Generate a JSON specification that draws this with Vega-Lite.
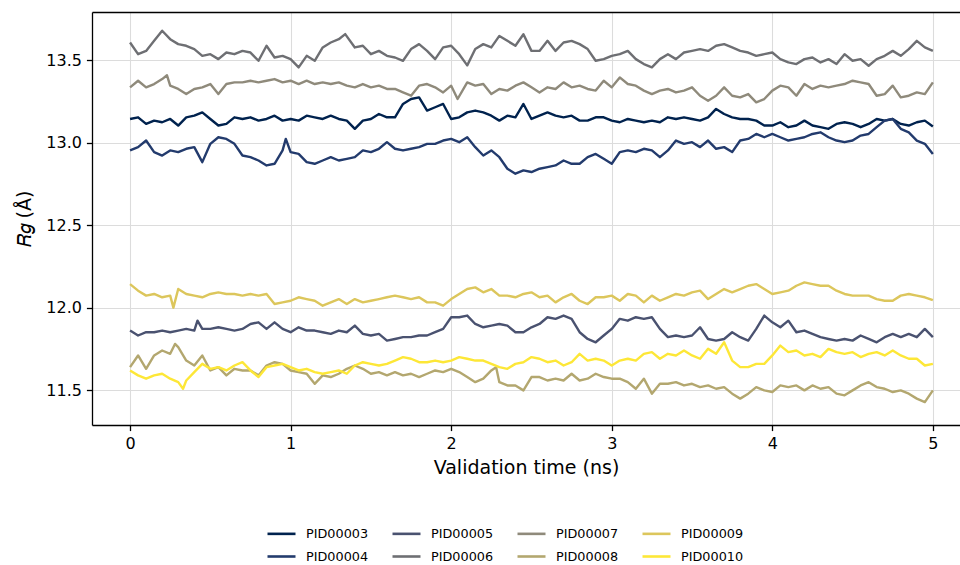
{
"$schema":"https://vega.github.io/schema/vega-lite/v6.json",
"width":868,"height":413,
"autosize":{"type":"none"},
"padding":{"left":92,"top":12,"right":0,"bottom":140},
"config":{"font":"DejaVu Sans","view":{"stroke":null},
"axis":{"labelFont":"DejaVu Sans","labelFontSize":16,"labelColor":"#000000","tickColor":"#000000","tickSize":5.6,"tickWidth":1.3,"domainColor":"#000000","domainWidth":1.3,"gridColor":"#dcdcdc","gridWidth":1.1,"titleFont":"DejaVu Sans","titleFontSize":19,"titleFontWeight":"normal","titleColor":"#000000","labelPadding":5}},
"data":{"values":[
{"t":0,"id":"PID00003","v":13.145},{"t":0.05,"id":"PID00003","v":13.155},{"t":0.1,"id":"PID00003","v":13.115},{"t":0.15,"id":"PID00003","v":13.135},{"t":0.2,"id":"PID00003","v":13.125},{"t":0.25,"id":"PID00003","v":13.145},{"t":0.3,"id":"PID00003","v":13.105},{"t":0.35,"id":"PID00003","v":13.155},{"t":0.4,"id":"PID00003","v":13.165},{"t":0.45,"id":"PID00003","v":13.185},{"t":0.5,"id":"PID00003","v":13.145},{"t":0.55,"id":"PID00003","v":13.105},{"t":0.6,"id":"PID00003","v":13.115},{"t":0.65,"id":"PID00003","v":13.155},{"t":0.7,"id":"PID00003","v":13.145},{"t":0.75,"id":"PID00003","v":13.155},{"t":0.8,"id":"PID00003","v":13.135},{"t":0.85,"id":"PID00003","v":13.145},{"t":0.9,"id":"PID00003","v":13.165},{"t":0.95,"id":"PID00003","v":13.135},{"t":1,"id":"PID00003","v":13.145},{"t":1.05,"id":"PID00003","v":13.135},{"t":1.1,"id":"PID00003","v":13.165},{"t":1.15,"id":"PID00003","v":13.155},{"t":1.2,"id":"PID00003","v":13.145},{"t":1.25,"id":"PID00003","v":13.165},{"t":1.3,"id":"PID00003","v":13.145},{"t":1.35,"id":"PID00003","v":13.135},{"t":1.4,"id":"PID00003","v":13.085},{"t":1.45,"id":"PID00003","v":13.135},{"t":1.5,"id":"PID00003","v":13.145},{"t":1.55,"id":"PID00003","v":13.175},{"t":1.6,"id":"PID00003","v":13.155},{"t":1.65,"id":"PID00003","v":13.155},{"t":1.7,"id":"PID00003","v":13.236},{"t":1.75,"id":"PID00003","v":13.266},{"t":1.8,"id":"PID00003","v":13.276},{"t":1.85,"id":"PID00003","v":13.196},{"t":1.9,"id":"PID00003","v":13.216},{"t":1.95,"id":"PID00003","v":13.236},{"t":2,"id":"PID00003","v":13.145},{"t":2.05,"id":"PID00003","v":13.155},{"t":2.1,"id":"PID00003","v":13.185},{"t":2.15,"id":"PID00003","v":13.196},{"t":2.2,"id":"PID00003","v":13.185},{"t":2.25,"id":"PID00003","v":13.165},{"t":2.3,"id":"PID00003","v":13.135},{"t":2.35,"id":"PID00003","v":13.165},{"t":2.4,"id":"PID00003","v":13.155},{"t":2.45,"id":"PID00003","v":13.236},{"t":2.5,"id":"PID00003","v":13.145},{"t":2.55,"id":"PID00003","v":13.165},{"t":2.6,"id":"PID00003","v":13.185},{"t":2.65,"id":"PID00003","v":13.165},{"t":2.7,"id":"PID00003","v":13.155},{"t":2.75,"id":"PID00003","v":13.165},{"t":2.8,"id":"PID00003","v":13.135},{"t":2.85,"id":"PID00003","v":13.135},{"t":2.9,"id":"PID00003","v":13.155},{"t":2.95,"id":"PID00003","v":13.155},{"t":3,"id":"PID00003","v":13.135},{"t":3.05,"id":"PID00003","v":13.125},{"t":3.1,"id":"PID00003","v":13.145},{"t":3.15,"id":"PID00003","v":13.135},{"t":3.2,"id":"PID00003","v":13.125},{"t":3.25,"id":"PID00003","v":13.135},{"t":3.3,"id":"PID00003","v":13.125},{"t":3.35,"id":"PID00003","v":13.155},{"t":3.4,"id":"PID00003","v":13.145},{"t":3.45,"id":"PID00003","v":13.155},{"t":3.5,"id":"PID00003","v":13.145},{"t":3.55,"id":"PID00003","v":13.135},{"t":3.6,"id":"PID00003","v":13.155},{"t":3.65,"id":"PID00003","v":13.206},{"t":3.7,"id":"PID00003","v":13.175},{"t":3.75,"id":"PID00003","v":13.155},{"t":3.8,"id":"PID00003","v":13.145},{"t":3.85,"id":"PID00003","v":13.145},{"t":3.9,"id":"PID00003","v":13.135},{"t":3.95,"id":"PID00003","v":13.105},{"t":4,"id":"PID00003","v":13.105},{"t":4.05,"id":"PID00003","v":13.125},{"t":4.1,"id":"PID00003","v":13.095},{"t":4.15,"id":"PID00003","v":13.105},{"t":4.2,"id":"PID00003","v":13.135},{"t":4.25,"id":"PID00003","v":13.105},{"t":4.3,"id":"PID00003","v":13.095},{"t":4.35,"id":"PID00003","v":13.085},{"t":4.4,"id":"PID00003","v":13.115},{"t":4.45,"id":"PID00003","v":13.125},{"t":4.5,"id":"PID00003","v":13.115},{"t":4.55,"id":"PID00003","v":13.095},{"t":4.6,"id":"PID00003","v":13.115},{"t":4.65,"id":"PID00003","v":13.145},{"t":4.7,"id":"PID00003","v":13.135},{"t":4.75,"id":"PID00003","v":13.145},{"t":4.8,"id":"PID00003","v":13.115},{"t":4.85,"id":"PID00003","v":13.105},{"t":4.9,"id":"PID00003","v":13.125},{"t":4.95,"id":"PID00003","v":13.135},{"t":5,"id":"PID00003","v":13.099},
{"t":0,"id":"PID00004","v":12.954},{"t":0.05,"id":"PID00004","v":12.974},{"t":0.1,"id":"PID00004","v":13.014},{"t":0.15,"id":"PID00004","v":12.944},{"t":0.2,"id":"PID00004","v":12.923},{"t":0.25,"id":"PID00004","v":12.954},{"t":0.3,"id":"PID00004","v":12.944},{"t":0.35,"id":"PID00004","v":12.964},{"t":0.4,"id":"PID00004","v":12.974},{"t":0.45,"id":"PID00004","v":12.883},{"t":0.5,"id":"PID00004","v":12.994},{"t":0.55,"id":"PID00004","v":13.034},{"t":0.6,"id":"PID00004","v":13.024},{"t":0.65,"id":"PID00004","v":12.994},{"t":0.7,"id":"PID00004","v":12.923},{"t":0.75,"id":"PID00004","v":12.913},{"t":0.8,"id":"PID00004","v":12.893},{"t":0.85,"id":"PID00004","v":12.863},{"t":0.9,"id":"PID00004","v":12.873},{"t":0.95,"id":"PID00004","v":12.954},{"t":0.97,"id":"PID00004","v":13.024},{"t":1,"id":"PID00004","v":12.944},{"t":1.05,"id":"PID00004","v":12.933},{"t":1.1,"id":"PID00004","v":12.883},{"t":1.15,"id":"PID00004","v":12.873},{"t":1.2,"id":"PID00004","v":12.893},{"t":1.25,"id":"PID00004","v":12.913},{"t":1.3,"id":"PID00004","v":12.893},{"t":1.35,"id":"PID00004","v":12.903},{"t":1.4,"id":"PID00004","v":12.913},{"t":1.45,"id":"PID00004","v":12.954},{"t":1.5,"id":"PID00004","v":12.944},{"t":1.55,"id":"PID00004","v":12.964},{"t":1.6,"id":"PID00004","v":13.004},{"t":1.65,"id":"PID00004","v":12.964},{"t":1.7,"id":"PID00004","v":12.954},{"t":1.75,"id":"PID00004","v":12.964},{"t":1.8,"id":"PID00004","v":12.974},{"t":1.85,"id":"PID00004","v":12.994},{"t":1.9,"id":"PID00004","v":12.994},{"t":1.95,"id":"PID00004","v":13.014},{"t":2,"id":"PID00004","v":13.024},{"t":2.05,"id":"PID00004","v":13.004},{"t":2.1,"id":"PID00004","v":13.034},{"t":2.15,"id":"PID00004","v":12.974},{"t":2.2,"id":"PID00004","v":12.923},{"t":2.25,"id":"PID00004","v":12.954},{"t":2.3,"id":"PID00004","v":12.913},{"t":2.35,"id":"PID00004","v":12.843},{"t":2.4,"id":"PID00004","v":12.813},{"t":2.45,"id":"PID00004","v":12.833},{"t":2.5,"id":"PID00004","v":12.823},{"t":2.55,"id":"PID00004","v":12.843},{"t":2.6,"id":"PID00004","v":12.853},{"t":2.65,"id":"PID00004","v":12.863},{"t":2.7,"id":"PID00004","v":12.893},{"t":2.75,"id":"PID00004","v":12.873},{"t":2.8,"id":"PID00004","v":12.873},{"t":2.85,"id":"PID00004","v":12.913},{"t":2.9,"id":"PID00004","v":12.933},{"t":2.95,"id":"PID00004","v":12.903},{"t":3,"id":"PID00004","v":12.873},{"t":3.05,"id":"PID00004","v":12.944},{"t":3.1,"id":"PID00004","v":12.954},{"t":3.15,"id":"PID00004","v":12.944},{"t":3.2,"id":"PID00004","v":12.964},{"t":3.25,"id":"PID00004","v":12.954},{"t":3.3,"id":"PID00004","v":12.913},{"t":3.35,"id":"PID00004","v":12.954},{"t":3.4,"id":"PID00004","v":13.014},{"t":3.45,"id":"PID00004","v":12.994},{"t":3.5,"id":"PID00004","v":13.004},{"t":3.55,"id":"PID00004","v":12.974},{"t":3.6,"id":"PID00004","v":13.014},{"t":3.65,"id":"PID00004","v":12.964},{"t":3.7,"id":"PID00004","v":12.974},{"t":3.75,"id":"PID00004","v":12.944},{"t":3.8,"id":"PID00004","v":13.014},{"t":3.85,"id":"PID00004","v":13.024},{"t":3.9,"id":"PID00004","v":13.054},{"t":3.95,"id":"PID00004","v":13.034},{"t":4,"id":"PID00004","v":13.054},{"t":4.05,"id":"PID00004","v":13.034},{"t":4.1,"id":"PID00004","v":13.014},{"t":4.15,"id":"PID00004","v":13.024},{"t":4.2,"id":"PID00004","v":13.034},{"t":4.25,"id":"PID00004","v":13.054},{"t":4.3,"id":"PID00004","v":13.064},{"t":4.35,"id":"PID00004","v":13.034},{"t":4.4,"id":"PID00004","v":13.014},{"t":4.45,"id":"PID00004","v":13.004},{"t":4.5,"id":"PID00004","v":13.014},{"t":4.55,"id":"PID00004","v":13.044},{"t":4.6,"id":"PID00004","v":13.054},{"t":4.65,"id":"PID00004","v":13.095},{"t":4.7,"id":"PID00004","v":13.135},{"t":4.75,"id":"PID00004","v":13.145},{"t":4.8,"id":"PID00004","v":13.085},{"t":4.85,"id":"PID00004","v":13.064},{"t":4.9,"id":"PID00004","v":13.014},{"t":4.95,"id":"PID00004","v":12.994},{"t":5,"id":"PID00004","v":12.933},
{"t":0,"id":"PID00005","v":11.861},{"t":0.05,"id":"PID00005","v":11.831},{"t":0.1,"id":"PID00005","v":11.851},{"t":0.15,"id":"PID00005","v":11.851},{"t":0.2,"id":"PID00005","v":11.861},{"t":0.25,"id":"PID00005","v":11.851},{"t":0.3,"id":"PID00005","v":11.861},{"t":0.35,"id":"PID00005","v":11.871},{"t":0.4,"id":"PID00005","v":11.861},{"t":0.42,"id":"PID00005","v":11.921},{"t":0.45,"id":"PID00005","v":11.871},{"t":0.5,"id":"PID00005","v":11.871},{"t":0.55,"id":"PID00005","v":11.881},{"t":0.6,"id":"PID00005","v":11.871},{"t":0.65,"id":"PID00005","v":11.861},{"t":0.7,"id":"PID00005","v":11.871},{"t":0.75,"id":"PID00005","v":11.901},{"t":0.8,"id":"PID00005","v":11.911},{"t":0.85,"id":"PID00005","v":11.871},{"t":0.9,"id":"PID00005","v":11.911},{"t":0.95,"id":"PID00005","v":11.871},{"t":1,"id":"PID00005","v":11.851},{"t":1.05,"id":"PID00005","v":11.881},{"t":1.1,"id":"PID00005","v":11.861},{"t":1.15,"id":"PID00005","v":11.861},{"t":1.2,"id":"PID00005","v":11.851},{"t":1.25,"id":"PID00005","v":11.841},{"t":1.3,"id":"PID00005","v":11.861},{"t":1.35,"id":"PID00005","v":11.851},{"t":1.4,"id":"PID00005","v":11.891},{"t":1.45,"id":"PID00005","v":11.841},{"t":1.5,"id":"PID00005","v":11.831},{"t":1.55,"id":"PID00005","v":11.841},{"t":1.6,"id":"PID00005","v":11.8},{"t":1.65,"id":"PID00005","v":11.81},{"t":1.7,"id":"PID00005","v":11.821},{"t":1.75,"id":"PID00005","v":11.821},{"t":1.8,"id":"PID00005","v":11.831},{"t":1.85,"id":"PID00005","v":11.831},{"t":1.9,"id":"PID00005","v":11.851},{"t":1.95,"id":"PID00005","v":11.871},{"t":2,"id":"PID00005","v":11.942},{"t":2.05,"id":"PID00005","v":11.942},{"t":2.1,"id":"PID00005","v":11.952},{"t":2.15,"id":"PID00005","v":11.901},{"t":2.2,"id":"PID00005","v":11.881},{"t":2.25,"id":"PID00005","v":11.891},{"t":2.3,"id":"PID00005","v":11.901},{"t":2.35,"id":"PID00005","v":11.891},{"t":2.4,"id":"PID00005","v":11.851},{"t":2.45,"id":"PID00005","v":11.851},{"t":2.5,"id":"PID00005","v":11.881},{"t":2.55,"id":"PID00005","v":11.901},{"t":2.6,"id":"PID00005","v":11.942},{"t":2.65,"id":"PID00005","v":11.932},{"t":2.7,"id":"PID00005","v":11.952},{"t":2.75,"id":"PID00005","v":11.932},{"t":2.8,"id":"PID00005","v":11.851},{"t":2.85,"id":"PID00005","v":11.81},{"t":2.9,"id":"PID00005","v":11.79},{"t":2.95,"id":"PID00005","v":11.831},{"t":3,"id":"PID00005","v":11.871},{"t":3.05,"id":"PID00005","v":11.932},{"t":3.1,"id":"PID00005","v":11.921},{"t":3.15,"id":"PID00005","v":11.942},{"t":3.2,"id":"PID00005","v":11.932},{"t":3.25,"id":"PID00005","v":11.942},{"t":3.3,"id":"PID00005","v":11.871},{"t":3.35,"id":"PID00005","v":11.821},{"t":3.4,"id":"PID00005","v":11.831},{"t":3.45,"id":"PID00005","v":11.821},{"t":3.5,"id":"PID00005","v":11.831},{"t":3.55,"id":"PID00005","v":11.881},{"t":3.6,"id":"PID00005","v":11.81},{"t":3.65,"id":"PID00005","v":11.8},{"t":3.7,"id":"PID00005","v":11.81},{"t":3.75,"id":"PID00005","v":11.851},{"t":3.8,"id":"PID00005","v":11.821},{"t":3.85,"id":"PID00005","v":11.8},{"t":3.9,"id":"PID00005","v":11.871},{"t":3.95,"id":"PID00005","v":11.952},{"t":4,"id":"PID00005","v":11.911},{"t":4.05,"id":"PID00005","v":11.881},{"t":4.1,"id":"PID00005","v":11.921},{"t":4.15,"id":"PID00005","v":11.851},{"t":4.2,"id":"PID00005","v":11.861},{"t":4.25,"id":"PID00005","v":11.841},{"t":4.3,"id":"PID00005","v":11.821},{"t":4.35,"id":"PID00005","v":11.81},{"t":4.4,"id":"PID00005","v":11.8},{"t":4.45,"id":"PID00005","v":11.81},{"t":4.5,"id":"PID00005","v":11.8},{"t":4.55,"id":"PID00005","v":11.831},{"t":4.6,"id":"PID00005","v":11.81},{"t":4.65,"id":"PID00005","v":11.79},{"t":4.7,"id":"PID00005","v":11.821},{"t":4.75,"id":"PID00005","v":11.841},{"t":4.8,"id":"PID00005","v":11.821},{"t":4.85,"id":"PID00005","v":11.841},{"t":4.9,"id":"PID00005","v":11.821},{"t":4.95,"id":"PID00005","v":11.871},{"t":5,"id":"PID00005","v":11.821},
{"t":0,"id":"PID00006","v":13.609},{"t":0.05,"id":"PID00006","v":13.538},{"t":0.1,"id":"PID00006","v":13.558},{"t":0.15,"id":"PID00006","v":13.619},{"t":0.2,"id":"PID00006","v":13.68},{"t":0.25,"id":"PID00006","v":13.629},{"t":0.3,"id":"PID00006","v":13.599},{"t":0.35,"id":"PID00006","v":13.589},{"t":0.4,"id":"PID00006","v":13.569},{"t":0.45,"id":"PID00006","v":13.528},{"t":0.5,"id":"PID00006","v":13.538},{"t":0.55,"id":"PID00006","v":13.508},{"t":0.6,"id":"PID00006","v":13.548},{"t":0.65,"id":"PID00006","v":13.538},{"t":0.7,"id":"PID00006","v":13.558},{"t":0.75,"id":"PID00006","v":13.548},{"t":0.8,"id":"PID00006","v":13.498},{"t":0.85,"id":"PID00006","v":13.589},{"t":0.9,"id":"PID00006","v":13.518},{"t":0.95,"id":"PID00006","v":13.528},{"t":1,"id":"PID00006","v":13.508},{"t":1.05,"id":"PID00006","v":13.458},{"t":1.1,"id":"PID00006","v":13.528},{"t":1.15,"id":"PID00006","v":13.498},{"t":1.2,"id":"PID00006","v":13.579},{"t":1.25,"id":"PID00006","v":13.609},{"t":1.3,"id":"PID00006","v":13.629},{"t":1.34,"id":"PID00006","v":13.66},{"t":1.4,"id":"PID00006","v":13.579},{"t":1.45,"id":"PID00006","v":13.589},{"t":1.5,"id":"PID00006","v":13.538},{"t":1.55,"id":"PID00006","v":13.558},{"t":1.6,"id":"PID00006","v":13.528},{"t":1.65,"id":"PID00006","v":13.518},{"t":1.7,"id":"PID00006","v":13.498},{"t":1.75,"id":"PID00006","v":13.569},{"t":1.8,"id":"PID00006","v":13.599},{"t":1.85,"id":"PID00006","v":13.558},{"t":1.9,"id":"PID00006","v":13.508},{"t":1.95,"id":"PID00006","v":13.579},{"t":2,"id":"PID00006","v":13.589},{"t":2.05,"id":"PID00006","v":13.538},{"t":2.1,"id":"PID00006","v":13.47},{"t":2.15,"id":"PID00006","v":13.569},{"t":2.2,"id":"PID00006","v":13.599},{"t":2.25,"id":"PID00006","v":13.579},{"t":2.3,"id":"PID00006","v":13.649},{"t":2.35,"id":"PID00006","v":13.619},{"t":2.4,"id":"PID00006","v":13.589},{"t":2.45,"id":"PID00006","v":13.659},{"t":2.5,"id":"PID00006","v":13.558},{"t":2.55,"id":"PID00006","v":13.558},{"t":2.6,"id":"PID00006","v":13.619},{"t":2.65,"id":"PID00006","v":13.558},{"t":2.7,"id":"PID00006","v":13.609},{"t":2.75,"id":"PID00006","v":13.619},{"t":2.8,"id":"PID00006","v":13.599},{"t":2.85,"id":"PID00006","v":13.569},{"t":2.9,"id":"PID00006","v":13.498},{"t":2.95,"id":"PID00006","v":13.508},{"t":3,"id":"PID00006","v":13.528},{"t":3.05,"id":"PID00006","v":13.538},{"t":3.1,"id":"PID00006","v":13.558},{"t":3.15,"id":"PID00006","v":13.508},{"t":3.2,"id":"PID00006","v":13.478},{"t":3.25,"id":"PID00006","v":13.458},{"t":3.3,"id":"PID00006","v":13.508},{"t":3.35,"id":"PID00006","v":13.538},{"t":3.4,"id":"PID00006","v":13.508},{"t":3.45,"id":"PID00006","v":13.548},{"t":3.5,"id":"PID00006","v":13.558},{"t":3.55,"id":"PID00006","v":13.569},{"t":3.6,"id":"PID00006","v":13.558},{"t":3.65,"id":"PID00006","v":13.589},{"t":3.7,"id":"PID00006","v":13.599},{"t":3.75,"id":"PID00006","v":13.579},{"t":3.8,"id":"PID00006","v":13.558},{"t":3.85,"id":"PID00006","v":13.548},{"t":3.9,"id":"PID00006","v":13.528},{"t":3.95,"id":"PID00006","v":13.538},{"t":4,"id":"PID00006","v":13.548},{"t":4.05,"id":"PID00006","v":13.508},{"t":4.1,"id":"PID00006","v":13.488},{"t":4.15,"id":"PID00006","v":13.478},{"t":4.2,"id":"PID00006","v":13.508},{"t":4.25,"id":"PID00006","v":13.518},{"t":4.3,"id":"PID00006","v":13.488},{"t":4.35,"id":"PID00006","v":13.508},{"t":4.4,"id":"PID00006","v":13.478},{"t":4.45,"id":"PID00006","v":13.538},{"t":4.5,"id":"PID00006","v":13.498},{"t":4.55,"id":"PID00006","v":13.508},{"t":4.6,"id":"PID00006","v":13.468},{"t":4.65,"id":"PID00006","v":13.508},{"t":4.7,"id":"PID00006","v":13.528},{"t":4.75,"id":"PID00006","v":13.558},{"t":4.8,"id":"PID00006","v":13.528},{"t":4.85,"id":"PID00006","v":13.569},{"t":4.9,"id":"PID00006","v":13.619},{"t":4.95,"id":"PID00006","v":13.579},{"t":5,"id":"PID00006","v":13.558},
{"t":0,"id":"PID00007","v":13.337},{"t":0.05,"id":"PID00007","v":13.377},{"t":0.1,"id":"PID00007","v":13.337},{"t":0.15,"id":"PID00007","v":13.357},{"t":0.2,"id":"PID00007","v":13.387},{"t":0.23,"id":"PID00007","v":13.41},{"t":0.25,"id":"PID00007","v":13.347},{"t":0.3,"id":"PID00007","v":13.327},{"t":0.35,"id":"PID00007","v":13.296},{"t":0.4,"id":"PID00007","v":13.327},{"t":0.45,"id":"PID00007","v":13.337},{"t":0.5,"id":"PID00007","v":13.357},{"t":0.55,"id":"PID00007","v":13.296},{"t":0.6,"id":"PID00007","v":13.357},{"t":0.65,"id":"PID00007","v":13.367},{"t":0.7,"id":"PID00007","v":13.367},{"t":0.75,"id":"PID00007","v":13.377},{"t":0.8,"id":"PID00007","v":13.367},{"t":0.85,"id":"PID00007","v":13.377},{"t":0.9,"id":"PID00007","v":13.387},{"t":0.95,"id":"PID00007","v":13.367},{"t":1,"id":"PID00007","v":13.377},{"t":1.05,"id":"PID00007","v":13.357},{"t":1.1,"id":"PID00007","v":13.377},{"t":1.15,"id":"PID00007","v":13.357},{"t":1.2,"id":"PID00007","v":13.367},{"t":1.25,"id":"PID00007","v":13.357},{"t":1.3,"id":"PID00007","v":13.367},{"t":1.35,"id":"PID00007","v":13.347},{"t":1.4,"id":"PID00007","v":13.337},{"t":1.45,"id":"PID00007","v":13.357},{"t":1.5,"id":"PID00007","v":13.337},{"t":1.55,"id":"PID00007","v":13.347},{"t":1.6,"id":"PID00007","v":13.327},{"t":1.65,"id":"PID00007","v":13.327},{"t":1.7,"id":"PID00007","v":13.306},{"t":1.75,"id":"PID00007","v":13.286},{"t":1.8,"id":"PID00007","v":13.347},{"t":1.85,"id":"PID00007","v":13.357},{"t":1.9,"id":"PID00007","v":13.337},{"t":1.95,"id":"PID00007","v":13.306},{"t":2,"id":"PID00007","v":13.347},{"t":2.04,"id":"PID00007","v":13.266},{"t":2.1,"id":"PID00007","v":13.367},{"t":2.15,"id":"PID00007","v":13.347},{"t":2.2,"id":"PID00007","v":13.357},{"t":2.25,"id":"PID00007","v":13.296},{"t":2.3,"id":"PID00007","v":13.327},{"t":2.35,"id":"PID00007","v":13.317},{"t":2.4,"id":"PID00007","v":13.347},{"t":2.45,"id":"PID00007","v":13.367},{"t":2.5,"id":"PID00007","v":13.337},{"t":2.55,"id":"PID00007","v":13.306},{"t":2.6,"id":"PID00007","v":13.337},{"t":2.65,"id":"PID00007","v":13.327},{"t":2.7,"id":"PID00007","v":13.367},{"t":2.75,"id":"PID00007","v":13.337},{"t":2.8,"id":"PID00007","v":13.347},{"t":2.85,"id":"PID00007","v":13.327},{"t":2.9,"id":"PID00007","v":13.317},{"t":2.95,"id":"PID00007","v":13.377},{"t":3,"id":"PID00007","v":13.337},{"t":3.05,"id":"PID00007","v":13.397},{"t":3.1,"id":"PID00007","v":13.357},{"t":3.15,"id":"PID00007","v":13.347},{"t":3.2,"id":"PID00007","v":13.317},{"t":3.25,"id":"PID00007","v":13.296},{"t":3.3,"id":"PID00007","v":13.317},{"t":3.35,"id":"PID00007","v":13.327},{"t":3.4,"id":"PID00007","v":13.306},{"t":3.45,"id":"PID00007","v":13.317},{"t":3.5,"id":"PID00007","v":13.337},{"t":3.55,"id":"PID00007","v":13.286},{"t":3.6,"id":"PID00007","v":13.256},{"t":3.65,"id":"PID00007","v":13.286},{"t":3.7,"id":"PID00007","v":13.337},{"t":3.75,"id":"PID00007","v":13.286},{"t":3.8,"id":"PID00007","v":13.276},{"t":3.85,"id":"PID00007","v":13.296},{"t":3.9,"id":"PID00007","v":13.246},{"t":3.95,"id":"PID00007","v":13.266},{"t":4,"id":"PID00007","v":13.317},{"t":4.05,"id":"PID00007","v":13.347},{"t":4.1,"id":"PID00007","v":13.337},{"t":4.15,"id":"PID00007","v":13.286},{"t":4.2,"id":"PID00007","v":13.357},{"t":4.25,"id":"PID00007","v":13.327},{"t":4.3,"id":"PID00007","v":13.347},{"t":4.35,"id":"PID00007","v":13.337},{"t":4.4,"id":"PID00007","v":13.347},{"t":4.45,"id":"PID00007","v":13.357},{"t":4.5,"id":"PID00007","v":13.377},{"t":4.55,"id":"PID00007","v":13.367},{"t":4.6,"id":"PID00007","v":13.357},{"t":4.65,"id":"PID00007","v":13.286},{"t":4.7,"id":"PID00007","v":13.296},{"t":4.75,"id":"PID00007","v":13.347},{"t":4.8,"id":"PID00007","v":13.276},{"t":4.85,"id":"PID00007","v":13.286},{"t":4.9,"id":"PID00007","v":13.306},{"t":4.95,"id":"PID00007","v":13.296},{"t":5,"id":"PID00007","v":13.367},
{"t":0,"id":"PID00008","v":11.639},{"t":0.05,"id":"PID00008","v":11.71},{"t":0.1,"id":"PID00008","v":11.629},{"t":0.15,"id":"PID00008","v":11.71},{"t":0.2,"id":"PID00008","v":11.74},{"t":0.25,"id":"PID00008","v":11.72},{"t":0.28,"id":"PID00008","v":11.78},{"t":0.3,"id":"PID00008","v":11.76},{"t":0.35,"id":"PID00008","v":11.679},{"t":0.4,"id":"PID00008","v":11.649},{"t":0.45,"id":"PID00008","v":11.71},{"t":0.5,"id":"PID00008","v":11.619},{"t":0.55,"id":"PID00008","v":11.639},{"t":0.6,"id":"PID00008","v":11.589},{"t":0.65,"id":"PID00008","v":11.629},{"t":0.7,"id":"PID00008","v":11.619},{"t":0.75,"id":"PID00008","v":11.619},{"t":0.8,"id":"PID00008","v":11.589},{"t":0.85,"id":"PID00008","v":11.649},{"t":0.9,"id":"PID00008","v":11.669},{"t":0.95,"id":"PID00008","v":11.659},{"t":1,"id":"PID00008","v":11.619},{"t":1.05,"id":"PID00008","v":11.609},{"t":1.1,"id":"PID00008","v":11.599},{"t":1.15,"id":"PID00008","v":11.538},{"t":1.2,"id":"PID00008","v":11.589},{"t":1.25,"id":"PID00008","v":11.579},{"t":1.3,"id":"PID00008","v":11.599},{"t":1.35,"id":"PID00008","v":11.629},{"t":1.4,"id":"PID00008","v":11.649},{"t":1.45,"id":"PID00008","v":11.629},{"t":1.5,"id":"PID00008","v":11.599},{"t":1.55,"id":"PID00008","v":11.609},{"t":1.6,"id":"PID00008","v":11.589},{"t":1.65,"id":"PID00008","v":11.609},{"t":1.7,"id":"PID00008","v":11.589},{"t":1.75,"id":"PID00008","v":11.599},{"t":1.8,"id":"PID00008","v":11.579},{"t":1.85,"id":"PID00008","v":11.599},{"t":1.9,"id":"PID00008","v":11.619},{"t":1.95,"id":"PID00008","v":11.609},{"t":2,"id":"PID00008","v":11.629},{"t":2.05,"id":"PID00008","v":11.609},{"t":2.1,"id":"PID00008","v":11.579},{"t":2.15,"id":"PID00008","v":11.548},{"t":2.2,"id":"PID00008","v":11.569},{"t":2.25,"id":"PID00008","v":11.619},{"t":2.28,"id":"PID00008","v":11.639},{"t":2.3,"id":"PID00008","v":11.548},{"t":2.35,"id":"PID00008","v":11.528},{"t":2.4,"id":"PID00008","v":11.528},{"t":2.45,"id":"PID00008","v":11.498},{"t":2.5,"id":"PID00008","v":11.579},{"t":2.55,"id":"PID00008","v":11.579},{"t":2.6,"id":"PID00008","v":11.558},{"t":2.65,"id":"PID00008","v":11.569},{"t":2.7,"id":"PID00008","v":11.558},{"t":2.75,"id":"PID00008","v":11.599},{"t":2.8,"id":"PID00008","v":11.558},{"t":2.85,"id":"PID00008","v":11.569},{"t":2.9,"id":"PID00008","v":11.599},{"t":2.95,"id":"PID00008","v":11.579},{"t":3,"id":"PID00008","v":11.569},{"t":3.05,"id":"PID00008","v":11.569},{"t":3.1,"id":"PID00008","v":11.548},{"t":3.15,"id":"PID00008","v":11.508},{"t":3.2,"id":"PID00008","v":11.569},{"t":3.25,"id":"PID00008","v":11.478},{"t":3.3,"id":"PID00008","v":11.538},{"t":3.35,"id":"PID00008","v":11.538},{"t":3.4,"id":"PID00008","v":11.548},{"t":3.45,"id":"PID00008","v":11.528},{"t":3.5,"id":"PID00008","v":11.538},{"t":3.55,"id":"PID00008","v":11.518},{"t":3.6,"id":"PID00008","v":11.528},{"t":3.65,"id":"PID00008","v":11.508},{"t":3.7,"id":"PID00008","v":11.518},{"t":3.75,"id":"PID00008","v":11.478},{"t":3.8,"id":"PID00008","v":11.448},{"t":3.85,"id":"PID00008","v":11.478},{"t":3.9,"id":"PID00008","v":11.518},{"t":3.95,"id":"PID00008","v":11.498},{"t":4,"id":"PID00008","v":11.488},{"t":4.05,"id":"PID00008","v":11.528},{"t":4.1,"id":"PID00008","v":11.518},{"t":4.15,"id":"PID00008","v":11.528},{"t":4.2,"id":"PID00008","v":11.498},{"t":4.25,"id":"PID00008","v":11.528},{"t":4.3,"id":"PID00008","v":11.508},{"t":4.35,"id":"PID00008","v":11.518},{"t":4.4,"id":"PID00008","v":11.478},{"t":4.45,"id":"PID00008","v":11.468},{"t":4.5,"id":"PID00008","v":11.498},{"t":4.55,"id":"PID00008","v":11.528},{"t":4.6,"id":"PID00008","v":11.548},{"t":4.65,"id":"PID00008","v":11.518},{"t":4.7,"id":"PID00008","v":11.508},{"t":4.75,"id":"PID00008","v":11.488},{"t":4.8,"id":"PID00008","v":11.498},{"t":4.85,"id":"PID00008","v":11.478},{"t":4.9,"id":"PID00008","v":11.448},{"t":4.95,"id":"PID00008","v":11.427},{"t":5,"id":"PID00008","v":11.498},
{"t":0,"id":"PID00009","v":12.143},{"t":0.05,"id":"PID00009","v":12.103},{"t":0.1,"id":"PID00009","v":12.073},{"t":0.15,"id":"PID00009","v":12.083},{"t":0.2,"id":"PID00009","v":12.063},{"t":0.25,"id":"PID00009","v":12.073},{"t":0.27,"id":"PID00009","v":12.0},{"t":0.3,"id":"PID00009","v":12.113},{"t":0.35,"id":"PID00009","v":12.083},{"t":0.4,"id":"PID00009","v":12.073},{"t":0.45,"id":"PID00009","v":12.063},{"t":0.5,"id":"PID00009","v":12.083},{"t":0.55,"id":"PID00009","v":12.093},{"t":0.6,"id":"PID00009","v":12.083},{"t":0.65,"id":"PID00009","v":12.083},{"t":0.7,"id":"PID00009","v":12.073},{"t":0.75,"id":"PID00009","v":12.083},{"t":0.8,"id":"PID00009","v":12.073},{"t":0.85,"id":"PID00009","v":12.083},{"t":0.9,"id":"PID00009","v":12.022},{"t":0.95,"id":"PID00009","v":12.032},{"t":1,"id":"PID00009","v":12.042},{"t":1.05,"id":"PID00009","v":12.063},{"t":1.1,"id":"PID00009","v":12.052},{"t":1.15,"id":"PID00009","v":12.042},{"t":1.2,"id":"PID00009","v":12.012},{"t":1.25,"id":"PID00009","v":12.032},{"t":1.3,"id":"PID00009","v":12.052},{"t":1.35,"id":"PID00009","v":12.022},{"t":1.4,"id":"PID00009","v":12.052},{"t":1.45,"id":"PID00009","v":12.032},{"t":1.5,"id":"PID00009","v":12.042},{"t":1.55,"id":"PID00009","v":12.052},{"t":1.6,"id":"PID00009","v":12.063},{"t":1.65,"id":"PID00009","v":12.073},{"t":1.7,"id":"PID00009","v":12.063},{"t":1.75,"id":"PID00009","v":12.052},{"t":1.8,"id":"PID00009","v":12.063},{"t":1.85,"id":"PID00009","v":12.032},{"t":1.9,"id":"PID00009","v":12.032},{"t":1.95,"id":"PID00009","v":12.012},{"t":2,"id":"PID00009","v":12.052},{"t":2.05,"id":"PID00009","v":12.083},{"t":2.1,"id":"PID00009","v":12.113},{"t":2.15,"id":"PID00009","v":12.123},{"t":2.2,"id":"PID00009","v":12.093},{"t":2.25,"id":"PID00009","v":12.113},{"t":2.3,"id":"PID00009","v":12.073},{"t":2.35,"id":"PID00009","v":12.073},{"t":2.4,"id":"PID00009","v":12.063},{"t":2.45,"id":"PID00009","v":12.083},{"t":2.5,"id":"PID00009","v":12.093},{"t":2.55,"id":"PID00009","v":12.063},{"t":2.6,"id":"PID00009","v":12.073},{"t":2.65,"id":"PID00009","v":12.032},{"t":2.7,"id":"PID00009","v":12.063},{"t":2.75,"id":"PID00009","v":12.083},{"t":2.8,"id":"PID00009","v":12.042},{"t":2.85,"id":"PID00009","v":12.022},{"t":2.9,"id":"PID00009","v":12.063},{"t":2.95,"id":"PID00009","v":12.063},{"t":3,"id":"PID00009","v":12.073},{"t":3.05,"id":"PID00009","v":12.042},{"t":3.1,"id":"PID00009","v":12.083},{"t":3.15,"id":"PID00009","v":12.073},{"t":3.2,"id":"PID00009","v":12.032},{"t":3.25,"id":"PID00009","v":12.073},{"t":3.3,"id":"PID00009","v":12.042},{"t":3.35,"id":"PID00009","v":12.063},{"t":3.4,"id":"PID00009","v":12.083},{"t":3.45,"id":"PID00009","v":12.073},{"t":3.5,"id":"PID00009","v":12.093},{"t":3.55,"id":"PID00009","v":12.103},{"t":3.6,"id":"PID00009","v":12.052},{"t":3.65,"id":"PID00009","v":12.083},{"t":3.7,"id":"PID00009","v":12.113},{"t":3.75,"id":"PID00009","v":12.093},{"t":3.8,"id":"PID00009","v":12.113},{"t":3.85,"id":"PID00009","v":12.133},{"t":3.9,"id":"PID00009","v":12.143},{"t":3.95,"id":"PID00009","v":12.113},{"t":4,"id":"PID00009","v":12.083},{"t":4.05,"id":"PID00009","v":12.093},{"t":4.1,"id":"PID00009","v":12.103},{"t":4.15,"id":"PID00009","v":12.133},{"t":4.2,"id":"PID00009","v":12.153},{"t":4.25,"id":"PID00009","v":12.143},{"t":4.3,"id":"PID00009","v":12.133},{"t":4.35,"id":"PID00009","v":12.133},{"t":4.4,"id":"PID00009","v":12.103},{"t":4.45,"id":"PID00009","v":12.083},{"t":4.5,"id":"PID00009","v":12.073},{"t":4.55,"id":"PID00009","v":12.073},{"t":4.6,"id":"PID00009","v":12.073},{"t":4.65,"id":"PID00009","v":12.052},{"t":4.7,"id":"PID00009","v":12.042},{"t":4.75,"id":"PID00009","v":12.042},{"t":4.8,"id":"PID00009","v":12.073},{"t":4.85,"id":"PID00009","v":12.083},{"t":4.9,"id":"PID00009","v":12.073},{"t":4.95,"id":"PID00009","v":12.063},{"t":5,"id":"PID00009","v":12.046},
{"t":0,"id":"PID00010","v":11.619},{"t":0.05,"id":"PID00010","v":11.589},{"t":0.1,"id":"PID00010","v":11.569},{"t":0.15,"id":"PID00010","v":11.589},{"t":0.2,"id":"PID00010","v":11.599},{"t":0.25,"id":"PID00010","v":11.569},{"t":0.3,"id":"PID00010","v":11.548},{"t":0.33,"id":"PID00010","v":11.508},{"t":0.35,"id":"PID00010","v":11.558},{"t":0.4,"id":"PID00010","v":11.609},{"t":0.45,"id":"PID00010","v":11.659},{"t":0.5,"id":"PID00010","v":11.629},{"t":0.55,"id":"PID00010","v":11.639},{"t":0.6,"id":"PID00010","v":11.619},{"t":0.65,"id":"PID00010","v":11.649},{"t":0.7,"id":"PID00010","v":11.669},{"t":0.75,"id":"PID00010","v":11.619},{"t":0.8,"id":"PID00010","v":11.579},{"t":0.85,"id":"PID00010","v":11.639},{"t":0.9,"id":"PID00010","v":11.649},{"t":0.95,"id":"PID00010","v":11.659},{"t":1,"id":"PID00010","v":11.639},{"t":1.05,"id":"PID00010","v":11.619},{"t":1.1,"id":"PID00010","v":11.629},{"t":1.15,"id":"PID00010","v":11.609},{"t":1.2,"id":"PID00010","v":11.599},{"t":1.25,"id":"PID00010","v":11.609},{"t":1.3,"id":"PID00010","v":11.619},{"t":1.35,"id":"PID00010","v":11.599},{"t":1.4,"id":"PID00010","v":11.649},{"t":1.45,"id":"PID00010","v":11.669},{"t":1.5,"id":"PID00010","v":11.659},{"t":1.55,"id":"PID00010","v":11.649},{"t":1.6,"id":"PID00010","v":11.659},{"t":1.65,"id":"PID00010","v":11.679},{"t":1.7,"id":"PID00010","v":11.7},{"t":1.75,"id":"PID00010","v":11.69},{"t":1.8,"id":"PID00010","v":11.669},{"t":1.85,"id":"PID00010","v":11.669},{"t":1.9,"id":"PID00010","v":11.679},{"t":1.95,"id":"PID00010","v":11.669},{"t":2,"id":"PID00010","v":11.679},{"t":2.05,"id":"PID00010","v":11.7},{"t":2.1,"id":"PID00010","v":11.69},{"t":2.15,"id":"PID00010","v":11.679},{"t":2.2,"id":"PID00010","v":11.679},{"t":2.25,"id":"PID00010","v":11.659},{"t":2.3,"id":"PID00010","v":11.639},{"t":2.35,"id":"PID00010","v":11.629},{"t":2.4,"id":"PID00010","v":11.659},{"t":2.45,"id":"PID00010","v":11.669},{"t":2.5,"id":"PID00010","v":11.7},{"t":2.55,"id":"PID00010","v":11.69},{"t":2.6,"id":"PID00010","v":11.669},{"t":2.65,"id":"PID00010","v":11.679},{"t":2.7,"id":"PID00010","v":11.649},{"t":2.75,"id":"PID00010","v":11.669},{"t":2.8,"id":"PID00010","v":11.72},{"t":2.85,"id":"PID00010","v":11.679},{"t":2.9,"id":"PID00010","v":11.69},{"t":2.95,"id":"PID00010","v":11.679},{"t":3,"id":"PID00010","v":11.649},{"t":3.05,"id":"PID00010","v":11.679},{"t":3.1,"id":"PID00010","v":11.69},{"t":3.15,"id":"PID00010","v":11.679},{"t":3.2,"id":"PID00010","v":11.72},{"t":3.25,"id":"PID00010","v":11.73},{"t":3.3,"id":"PID00010","v":11.69},{"t":3.35,"id":"PID00010","v":11.72},{"t":3.4,"id":"PID00010","v":11.71},{"t":3.45,"id":"PID00010","v":11.74},{"t":3.5,"id":"PID00010","v":11.71},{"t":3.55,"id":"PID00010","v":11.69},{"t":3.6,"id":"PID00010","v":11.75},{"t":3.65,"id":"PID00010","v":11.72},{"t":3.7,"id":"PID00010","v":11.79},{"t":3.75,"id":"PID00010","v":11.679},{"t":3.8,"id":"PID00010","v":11.639},{"t":3.85,"id":"PID00010","v":11.639},{"t":3.9,"id":"PID00010","v":11.659},{"t":3.95,"id":"PID00010","v":11.659},{"t":4,"id":"PID00010","v":11.71},{"t":4.05,"id":"PID00010","v":11.77},{"t":4.1,"id":"PID00010","v":11.73},{"t":4.15,"id":"PID00010","v":11.74},{"t":4.2,"id":"PID00010","v":11.71},{"t":4.25,"id":"PID00010","v":11.72},{"t":4.3,"id":"PID00010","v":11.7},{"t":4.35,"id":"PID00010","v":11.75},{"t":4.4,"id":"PID00010","v":11.73},{"t":4.45,"id":"PID00010","v":11.72},{"t":4.5,"id":"PID00010","v":11.73},{"t":4.55,"id":"PID00010","v":11.7},{"t":4.6,"id":"PID00010","v":11.72},{"t":4.65,"id":"PID00010","v":11.73},{"t":4.7,"id":"PID00010","v":11.71},{"t":4.75,"id":"PID00010","v":11.74},{"t":4.8,"id":"PID00010","v":11.71},{"t":4.85,"id":"PID00010","v":11.69},{"t":4.9,"id":"PID00010","v":11.69},{"t":4.95,"id":"PID00010","v":11.649},{"t":5,"id":"PID00010","v":11.659}
]},
"layer":[
{"mark":{"type":"line","strokeWidth":2.4,"strokeJoin":"round"},
"encoding":{
"x":{"field":"t","type":"quantitative","scale":{"domain":[-0.237,5.169],"nice":false,"zero":false},
"axis":{"values":[0,1,2,3,4,5],"format":"d","title":"Validation time (ns)","titlePadding":7,"grid":true}},
"y":{"field":"v","type":"quantitative","scale":{"domain":[11.288,13.794],"nice":false,"zero":false},
"axis":{"values":[11.5,12,12.5,13,13.5],"format":".1f","title":"𝑅𝑔 (Å)","titlePadding":11,"grid":true}},
"color":{"field":"id","type":"nominal",
"scale":{"domain":["PID00003","PID00004","PID00005","PID00006","PID00007","PID00008","PID00009","PID00010"],
"range":["#00224e","#233b6d","#4a5270","#6e6f73","#8f8a7b","#b3a76f","#dcc65c","#fde737"]},
"legend":{"orient":"none","legendX":174,"legendY":506,"columns":4,"title":null,"symbolType":"stroke","symbolSize":784,"symbolStrokeWidth":2.6,"labelFont":"DejaVu Sans","labelFontSize":12.8,"labelColor":"#000000","columnPadding":18,"rowPadding":-1,"labelOffset":9}}}},
{"mark":{"type":"line","strokeOpacity":0},
"encoding":{
"x":{"field":"t","type":"quantitative","axis":{"orient":"top","labels":false,"ticks":false,"grid":false,"title":null}},
"y":{"field":"v","type":"quantitative"},
"detail":{"field":"id","type":"nominal"}}}
],
"resolve":{"axis":{"x":"independent"}}
}
